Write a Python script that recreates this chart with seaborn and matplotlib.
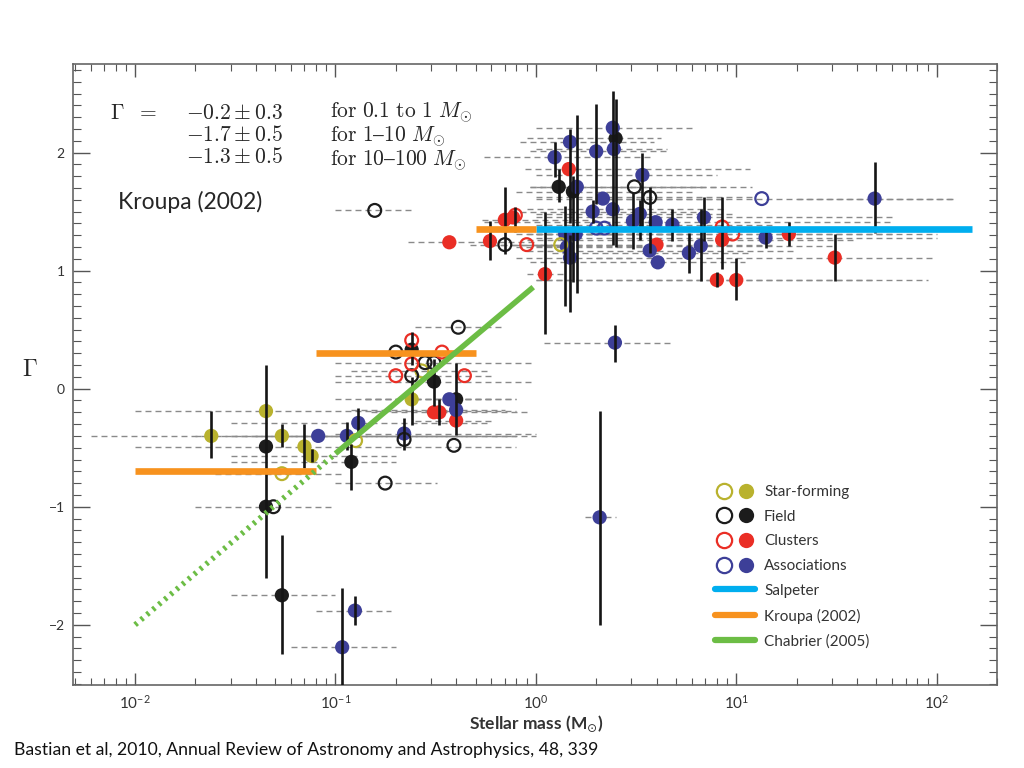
import numpy as np
import pandas as pd
import matplotlib
matplotlib.use("Agg")
import matplotlib.pyplot as plt
from matplotlib.lines import Line2D
from matplotlib.legend_handler import HandlerTuple
from matplotlib.ticker import LogLocator, MultipleLocator, FixedLocator, FixedFormatter
import seaborn as sns

# each row: (mass, gamma, filled, gamma_lo, gamma_hi, mass_lo, mass_hi)
star_forming = [
    (0.024, -0.40, 1, -0.59, -0.19, 0.006, 1.0),
    (0.045, -0.19, 1, None, None, 0.01, 0.8),
    (0.054, -0.40, 1, -0.49, -0.30, 0.02, 0.8),
    (0.070, -0.49, 1, -0.67, -0.30, None, None),
    (0.076, -0.57, 1, -0.62, -0.51, 0.03, 0.2),
    (0.054, -0.72, 0, None, None, 0.025, 0.11),
    (0.24, -0.09, 1, -0.31, 0.10, 0.1, 0.8),
    (0.27, 0.15, 0, None, None, 0.12, 0.6),
    (0.126, -0.44, 0, None, None, None, None),
    (1.33, 1.22, 0, None, None, 0.8, 3.0),
]

field = [
    (0.045, -0.49, 1, -1.0, 0.20, 0.01, 0.8),
    (0.045, -1.00, 1, -1.60, -1.0, 0.02, 0.1),
    (0.049, -1.00, 0, None, None, None, None),
    (0.054, -1.75, 1, -2.25, -1.24, 0.03, 0.1),
    (0.12, -0.62, 1, -0.86, -0.47, 0.03, 0.2),
    (0.177, -0.80, 0, None, None, 0.1, 0.32),
    (0.22, -0.43, 0, None, None, None, None),
    (0.24, 0.11, 0, None, None, None, None),
    (0.24, 0.33, 1, 0.20, 0.48, None, None),
    (0.20, 0.31, 0, None, None, None, None),
    (0.28, 0.22, 0, None, None, 0.1, 0.97),
    (0.31, 0.22, 0, None, None, None, None),
    (0.31, 0.06, 1, -0.15, 0.25, 0.1, 0.97),
    (0.40, -0.09, 1, -0.39, 0.22, 0.14, 0.6),
    (0.39, -0.48, 0, None, None, None, None),
    (0.41, 0.52, 0, None, None, 0.25, 0.68),
    (0.157, 1.51, 0, None, None, 0.1, 0.24),
    (0.70, 1.22, 0, None, None, 0.47, 1.4),
    (1.30, 1.71, 1, 1.58, 1.86, 0.93, 8.3),
    (1.53, 1.67, 1, 0.90, 1.80, 0.8, 6.0),
    (2.50, 2.12, 1, 1.20, 2.45, 0.9, 4.2),
    (3.1, 1.71, 0, None, None, 1.0, 7.0),
    (3.7, 1.62, 0, 1.15, 1.71, 1.0, 12.0),
]

clusters = [
    (0.37, 1.24, 1, None, None, 0.23, 1.0),
    (0.59, 1.25, 1, 1.09, 1.42, None, None),
    (0.70, 1.43, 1, 1.14, 1.71, 0.54, 2.0),
    (0.77, 1.45, 1, None, None, None, None),
    (0.79, 1.47, 0, 1.33, 1.54, None, None),
    (0.90, 1.22, 0, None, None, 0.6, 1.5),
    (1.11, 0.97, 1, 0.46, 1.50, 0.9, 1.4),
    (1.46, 1.86, 1, None, None, 0.88, 11.7),
    (4.0, 1.22, 1, None, None, 1.0, 15.0),
    (8.5, 1.26, 1, 1.01, 1.62, 0.9, 40.0),
    (8.5, 1.37, 0, None, None, None, None),
    (9.6, 1.31, 0, None, None, 1.0, 60.0),
    (8.0, 0.92, 1, 0.86, 0.99, 1.0, 50.0),
    (10.0, 0.92, 1, 0.75, 1.11, 1.0, 90.0),
    (18.3, 1.31, 1, 1.21, 1.41, 1.0, 100.0),
    (31.0, 1.11, 1, 0.91, 1.31, 2.0, 95.0),
    (0.24, 0.21, 0, None, None, None, None),
    (0.24, 0.41, 0, None, None, None, None),
    (0.20, 0.11, 0, None, None, 0.1, 0.6),
    (0.34, 0.31, 0, None, None, None, None),
    (0.44, 0.11, 0, None, None, None, None),
    (0.31, -0.20, 1, None, None, None, None),
    (0.33, -0.20, 1, -0.31, -0.09, 0.15, 0.9),
    (0.40, -0.27, 1, None, None, 0.25, 0.6),
]

associations = [
    (0.082, -0.40, 1, None, None, 0.03, 0.8),
    (0.114, -0.40, 1, -0.52, -0.28, 0.04, 0.5),
    (0.13, -0.29, 1, -0.41, -0.16, 0.03, 0.6),
    (0.22, -0.38, 1, -0.52, -0.25, 0.1, 1.0),
    (0.37, -0.09, 1, None, None, 0.14, 0.8),
    (0.40, -0.18, 1, None, None, 0.12, 0.7),
    (0.108, -2.19, 1, -2.55, -1.69, 0.06, 0.2),
    (0.125, -1.88, 1, -2.0, -1.76, 0.08, 0.19),
    (2.08, -1.09, 1, -2.0, -0.19, 1.75, 2.5),
    (2.48, 0.39, 1, 0.23, 0.54, 1.1, 4.9),
    (1.24, 1.96, 1, 1.79, 2.09, 0.55, 3.7),
    (1.48, 2.09, 1, 1.40, 2.20, 0.83, 3.9),
    (1.6, 1.71, 1, 0.81, 2.32, 0.93, 12.0),
    (2.0, 2.01, 1, 1.56, 2.41, 0.93, 4.6),
    (2.42, 2.21, 1, 1.22, 2.52, 1.0, 6.2),
    (2.45, 2.03, 1, None, None, 1.0, 4.5),
    (2.16, 1.61, 1, None, None, 1.0, 9.0),
    (1.92, 1.50, 1, 1.40, 1.60, 0.83, 6.6),
    (2.42, 1.52, 1, None, None, 0.9, 9.0),
    (2.0, 1.36, 0, None, None, None, None),
    (2.2, 1.36, 0, None, None, None, None),
    (3.4, 1.81, 1, 1.37, 2.0, 1.0, 8.0),
    (3.05, 1.42, 1, 1.18, 1.66, None, None),
    (3.3, 1.48, 1, 1.26, 1.60, 1.0, 10.0),
    (3.96, 1.41, 1, None, None, 0.55, 60.0),
    (3.7, 1.17, 1, None, None, 0.9, 20.0),
    (4.06, 1.07, 1, None, None, 0.93, 11.0),
    (4.8, 1.39, 1, 1.25, 1.52, 1.0, 15.0),
    (5.8, 1.15, 1, 0.98, 1.32, 1.2, 12.0),
    (6.9, 1.45, 1, 1.25, 1.62, 1.0, 60.0),
    (6.65, 1.21, 1, 0.91, 1.52, 1.0, 30.0),
    (13.4, 1.61, 0, None, None, 2.0, 120.0),
    (14.0, 1.28, 1, 1.19, 1.33, 1.0, 100.0),
    (49.0, 1.61, 1, 1.32, 1.92, 20.0, 120.0),
    (1.40, 1.31, 1, 0.70, 1.55, 0.8, 5.0),
    (1.43, 1.20, 1, None, None, 0.8, 4.0),
    (1.48, 1.11, 1, 0.65, 1.30, 0.8, 3.0),
    (1.58, 1.31, 1, None, None, 0.9, 6.0),
]

groups = ["Star-forming", "Field", "Clusters", "Associations"]
group_colors = ["#b9b22e", "#1c1c1c", "#ea2e25", "#3d3f98"]

# reference IMFs
salpeter_mass = [1.0, 150.0]
salpeter_gamma = 1.35
kroupa_edges = [0.01, 0.08, 0.5, 1.0]
kroupa_gamma = [-0.7, 0.3, 1.35]
chabrier_mass = [0.01, 0.1, 0.97]
chabrier_gamma = [-2.0, -0.55, 0.86]
imf_labels = ["Salpeter", "Kroupa (2002)", "Chabrier (2005)"]
imf_colors = ["#00aeef", "#f7921e", "#6cbd45"]

# Kroupa slopes printed in the top-left box
eq_slopes = [r"-0.2\pm0.3", r"-1.7\pm0.5", r"-1.3\pm0.5"]
eq_ranges = [r"0.1\ to\ 1", r"1–10", r"10–100"]

y_ticks = [-2, -1, 0, 1, 2]
y_tick_labels = ["−2", "−1", "0", "1", "2"]

sns.set_theme(style="ticks")
plt.rcParams["font.family"] = ["Lato", "DejaVu Sans"]

cols = ["mass", "gamma", "filled", "g_lo", "g_hi", "m_lo", "m_hi"]
frames = []
for name, rows in zip(groups, [star_forming, field, clusters, associations]):
    d = pd.DataFrame(rows, columns=cols)
    d["group"] = name
    frames.append(d)
df = pd.concat(frames, ignore_index=True)
for c in ["g_lo", "g_hi", "m_lo", "m_hi"]:
    df[c] = df[c].astype(float)
pal = dict(zip(groups, group_colors))

fig = plt.figure(figsize=(10.24, 7.68), dpi=100)
ax = fig.add_axes([73 / 1024, 1 - 685 / 768, 924 / 1024, 621 / 768])
ax.set_xscale("log")

# mass ranges of each study
rng = df.dropna(subset=["m_lo"])
ax.hlines(rng["gamma"], rng["m_lo"], rng["m_hi"], colors="#8a8a8a",
          linestyles=(0, (4.3, 2.9)), linewidth=1.0, zorder=1)

# points
sns.scatterplot(data=df[df.filled == 1], x="mass", y="gamma", hue="group",
                palette=pal, s=105, linewidth=0, legend=False, ax=ax, zorder=3)
for name in groups:
    sub = df[(df.filled == 0) & (df.group == name)]
    sns.scatterplot(data=sub, x="mass", y="gamma", s=85, color=pal[name],
                    facecolor="none", edgecolor=pal[name], linewidth=1.6,
                    legend=False, ax=ax, zorder=3)

# error bars
eb = df.dropna(subset=["g_lo"])
ax.vlines(eb["mass"], eb["g_lo"], eb["g_hi"], colors="#151515", linewidth=1.9, zorder=4)

# IMF lines
ax.plot(salpeter_mass, [salpeter_gamma] * 2, color=imf_colors[0], lw=4.8,
        solid_capstyle="butt", zorder=5)
for i, g in enumerate(kroupa_gamma):
    ax.plot(kroupa_edges[i:i + 2], [g, g], color=imf_colors[1], lw=4.8,
            solid_capstyle="butt", zorder=5)
ax.plot(chabrier_mass[:2], chabrier_gamma[:2], color=imf_colors[2], lw=4,
        linestyle=(0, (0.5, 0.9)), dash_capstyle="butt", zorder=5)
ax.plot(chabrier_mass[1:], chabrier_gamma[1:], color=imf_colors[2], lw=4,
        solid_capstyle="butt", zorder=5)

ax.set_xlim(0.0049, 200)
ax.set_ylim(-2.51, 2.75)
ax.set_xlabel("")
ax.set_ylabel("")
ax.xaxis.set_major_locator(LogLocator(base=10, numticks=10))
ax.xaxis.set_minor_locator(LogLocator(base=10, subs=np.arange(2, 10), numticks=20))
ax.yaxis.set_major_locator(FixedLocator(y_ticks))
ax.yaxis.set_major_formatter(FixedFormatter(y_tick_labels))
ax.yaxis.set_minor_locator(MultipleLocator(0.1))
ax.tick_params(which="both", direction="in", top=True, right=True, color="#555555",
               labelcolor="#333333")
ax.tick_params(axis="x", which="major", length=9, width=1, labelsize=11, pad=6)
ax.tick_params(axis="x", which="minor", length=5, width=0.8)
ax.tick_params(axis="y", which="major", length=12, width=1, labelsize=10, pad=6)
ax.tick_params(axis="y", which="minor", length=6, width=0.8)
for s in ax.spines.values():
    s.set_color("#666666")
    s.set_linewidth(1.2)

# legend
handles = []
for c in group_colors:
    o = Line2D([], [], marker="o", ls="none", ms=11, mfc="none", mec=c, mew=1.6)
    f = Line2D([], [], marker="o", ls="none", ms=11, mfc=c, mec=c, mew=0)
    handles.append((o, f))
for c in imf_colors:
    handles.append(Line2D([], [], color=c, lw=4.5))
leg = ax.legend(handles, groups + imf_labels,
                handler_map={tuple: HandlerTuple(ndivide=None, pad=0.4)},
                loc="upper left", bbox_to_anchor=(0.695, 0.322), frameon=False,
                fontsize=11, handlelength=2.6, handletextpad=0.6, labelspacing=0.7,
                borderpad=0, borderaxespad=0)
for t in leg.get_texts():
    t.set_color("#333333")

# equation block, one text per column
top = 1 - 103 / 768
fig.text(110 / 1024, top, r"$\Gamma\ \ =$", fontsize=15.5, math_fontfamily="cm", va="top")
fig.text(186 / 1024, top, "\n".join("$" + s + "$" for s in eq_slopes), fontsize=15.5,
         math_fontfamily="cm", va="top", linespacing=1.12)
fig.text(330 / 1024, 1 - 100 / 768,
         "\n".join(r"$\mathrm{for\ " + r + r"}\ M_{\odot}$" for r in eq_ranges),
         fontsize=15.5, math_fontfamily="cm", va="top", linespacing=0.96)

fig.text(118 / 1024, 1 - 202 / 768, "Kroupa (2002)", fontsize=16.5, va="center")
fig.text(30 / 1024, 1 - 370 / 768, r"$\Gamma$", fontsize=17, math_fontfamily="cm",
         ha="center", va="center")
fig.text(536 / 1024, 1 - 724 / 768, r"Stellar mass (M$_{\odot}$)", fontsize=12.5,
         fontweight="bold", ha="center", va="center", color="#333333")
fig.text(14 / 1024, 1 - 750 / 768,
         "Bastian et al, 2010, Annual Review of Astronomy and Astrophysics, 48, 339",
         fontsize=12.7, va="center", color="#111111")

fig.savefig("out.png", dpi=100)
